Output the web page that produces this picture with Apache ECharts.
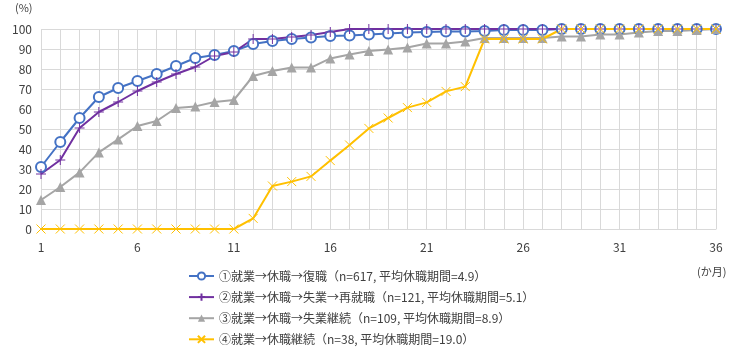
<!DOCTYPE html>
<html lang="ja">
<head>
    <meta charset="UTF-8">
    <title>休職期間の累積分布</title>
    <script src="https://cdn.jsdelivr.net/npm/echarts@6/dist/echarts.min.js"></script>
    <style type="text/css">
        html, body { margin: 0; padding: 0; background: #fff; }
        #main { width: 750px; height: 354px; }
    </style>
</head>
<body>
<div id="main"></div>
<script type="text/javascript">
    // 経過月 1..36
    var months = [];
    for (var m = 1; m <= 36; m++) months.push(String(m));

    var names = [
        '①就業→休職→復職（n=617, 平均休職期間=4.9）',
        '②就業→休職→失業→再就職（n=121, 平均休職期間=5.1）',
        '③就業→休職→失業継続（n=109, 平均休職期間=8.9）',
        '④就業→休職継続（n=38, 平均休職期間=19.0）'
    ];

    var fukushoku = [31, 43.5, 55.5, 66, 70.5, 74, 77.5, 81.5, 85.5, 87, 89, 92.5,
        94, 95, 95.7, 96.5, 96.8, 97.2, 97.7, 98.3, 98.5, 98.7, 98.8, 99,
        99.5, 99.5, 99.5, 100, 100, 100, 100, 100, 100, 100, 100, 100];
    var saishushoku = [27.5, 34.5, 50.5, 58.5, 63.5, 69, 73.5, 77.5, 81, 86.5, 88.5, 95,
        95, 96, 97, 98.5, 100, 100, 100, 100, 100, 100, 100, 100,
        100, 100, 100, 100, 100, 100, 100, 100, 100, 100, 100, 100];
    var shitsugyo = [14.5, 21, 28.3, 38.3, 44.8, 51.5, 54, 60.5, 61.3, 63.5, 64.5, 76.5,
        79, 80.7, 80.7, 85.3, 87.3, 89, 89.8, 90.7, 92.8, 92.8, 93.7, 95.5,
        95.5, 95.5, 95.5, 96.2, 96.2, 97.3, 97.3, 98.2, 99, 99, 99.5, 100];
    var kyushoku = [0, 0, 0, 0, 0, 0, 0, 0, 0, 0, 0, 5.3,
        21.5, 23.7, 26.3, 34.2, 42, 50.3, 55.5, 60.7, 63.3, 68.8, 71.2, 95,
        95, 95, 95, 100, 100, 100, 100, 100, 100, 100, 100, 100];

    var FONT = '"Noto Sans CJK JP", sans-serif';
    var plus = 'path://M5,0 L5,10 M0,5 L10,5';
    var cross = 'path://M0,0 L10,10 M10,0 L0,10';

    function line(name, data, color, symbol, size, item) {
        return {
            name: name,
            type: 'line',
            data: data,
            symbol: symbol,
            symbolSize: size,
            lineStyle: { color: color, width: 2 },
            itemStyle: item,
            emphasis: { disabled: true }
        };
    }

    var chart = echarts.init(document.getElementById('main'));
    chart.setOption({
        animation: false,
        textStyle: { fontFamily: FONT },
        grid: { left: 41, right: 34, top: 29, bottom: 125 },
        legend: {
            orient: 'vertical',
            left: 183,
            top: 265,
            itemGap: 9,
            itemWidth: 25,
            itemHeight: 9,
            textStyle: { fontFamily: FONT, fontSize: 12, color: '#404040' },
            data: names
        },
        graphic: [
            { type: 'text', left: 15, top: 2, style: { text: '(%)', font: '11px ' + FONT, fill: '#404040' } },
            { type: 'text', left: 697, top: 266, style: { text: '(か月)', font: '11px ' + FONT, fill: '#404040' } }
        ],
        xAxis: {
            type: 'category',
            data: months,
            boundaryGap: false,
            axisLine: { lineStyle: { color: '#d9d9d9' } },
            axisTick: { show: false },
            axisLabel: { interval: 4, color: '#404040', fontSize: 12, margin: 12 },
            splitLine: { show: true, interval: 0, lineStyle: { color: '#d9d9d9' } }
        },
        yAxis: {
            type: 'value',
            min: 0,
            max: 100,
            interval: 10,
            axisLine: { show: false },
            axisTick: { show: false },
            axisLabel: { color: '#404040', fontSize: 12, margin: 9 },
            splitLine: { lineStyle: { color: '#d9d9d9' } }
        },
        series: [
            line(names[0], fukushoku, '#4472C4', 'emptyCircle', 10,
                { color: '#4472C4', borderColor: '#4472C4', borderWidth: 1 }),
            line(names[1], saishushoku, '#7030A0', plus, 10,
                { color: 'none', borderColor: '#7030A0', borderWidth: 1 }),
            line(names[2], shitsugyo, '#A5A5A5', 'triangle', 10,
                { color: '#A5A5A5' }),
            line(names[3], kyushoku, '#FFC000', cross, 9,
                { color: 'none', borderColor: '#FFC000', borderWidth: 1 })
        ]
    });
</script>
</body>
</html>
